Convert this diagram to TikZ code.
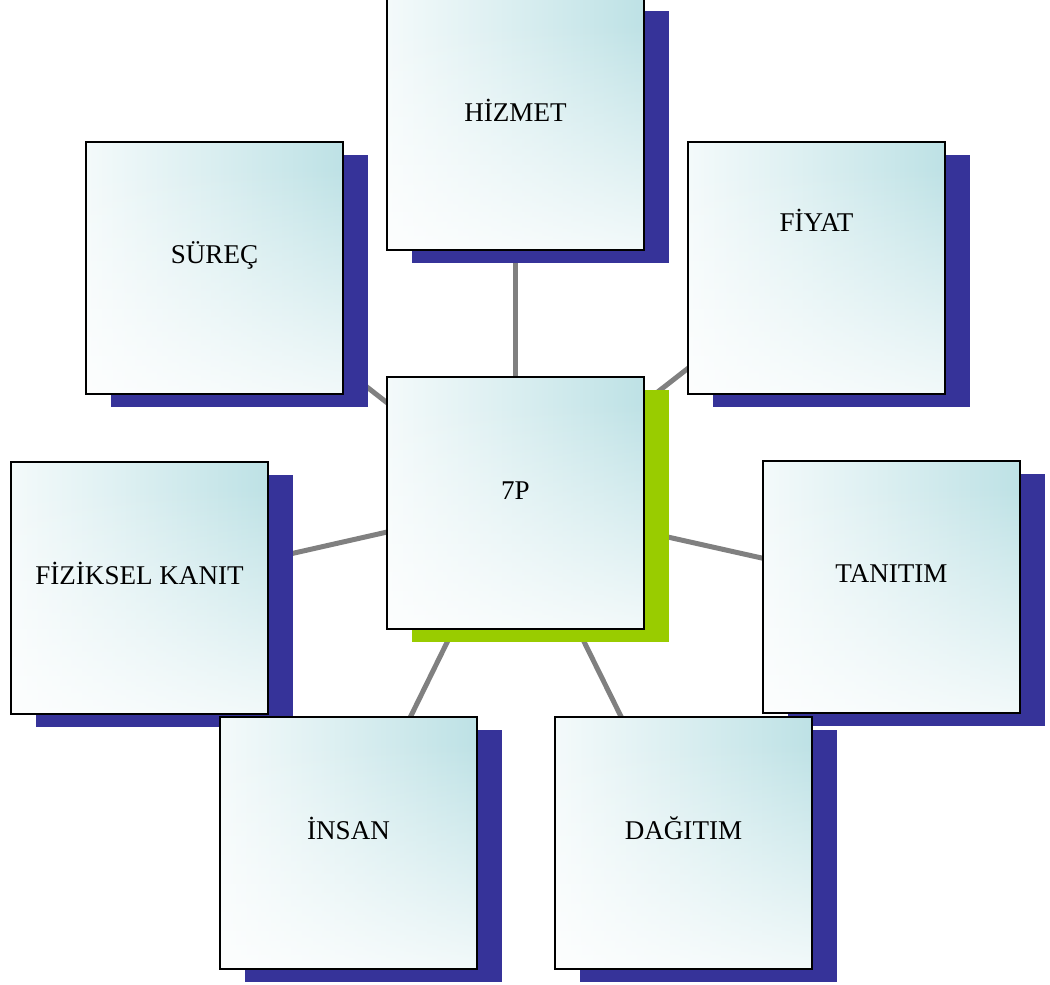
\documentclass[tikz,border=0pt]{standalone}
\usepackage{fontspec}
\setmainfont{Liberation Serif}
\usetikzlibrary{calc,fadings}

\definecolor{cardteal}{RGB}{184,223,227}
\definecolor{navyshadow}{RGB}{54,51,153}
\definecolor{limeshadow}{RGB}{153,204,0}
\definecolor{linkgray}{RGB}{128,128,128}

% card face: white on the left turning teal on the right ...
\pgfdeclarehorizontalshading{cardface}{100bp}{color(0bp)=(white); color(14bp)=(white); color(45bp)=(cardteal!45!white); color(80bp)=(cardteal); color(100bp)=(cardteal)}
% ... washed back to white towards the bottom
\pgfdeclareverticalshading{cardwash}{100bp}{color(0bp)=(white); color(14bp)=(white); color(70bp)=(black); color(100bp)=(black)}
\pgfdeclarefading{washfade}{\pgfuseshading{cardwash}}

\pgfdeclarelayer{links}
\pgfdeclarelayer{shadows}
\pgfsetlayers{links,shadows,main}

\tikzset{
  card/.style={draw=black, line width=1.5pt, inner sep=0pt, outer sep=0pt,
    minimum width=257*0.75pt, minimum height=252*0.75pt,
    path picture={
      \shade[shading=cardface] (path picture bounding box.south west) rectangle (path picture bounding box.north east);
      \fill[white, path fading=washfade, fit fading=true] (path picture bounding box.south west) rectangle (path picture bounding box.north east);
    }},
  cardtext/.style={anchor=base, inner sep=0pt, font=\fontsize{20.3}{24}\selectfont},
  link/.style={draw=linkgray, line width=3.75pt},
  navyback/.style={fill=navyshadow},
  limeback/.style={fill=limeshadow},
}

\newcommand{\backplate}[2]{%
  \fill[#2] ($(#1.north west)+(25,12.5)$) rectangle ($(#1.south east)+(25,12.5)$);}

\begin{document}
\begin{tikzpicture}[x=0.75pt, y=-0.75pt]
\useasboundingbox (0,0) rectangle (1050,985);

% cards
\node[card] (core)    at (515.5,503) {};
\node[card] (hizmet)  at (515.5,124) {};
\node[card] (surec)   at (214.5,268) {};
\node[card] (fiyat)   at (816.5,268) {};
\node[card] (fiziksel) at (139.5,588) {};
\node[card] (tanitim) at (891.5,587) {};
\node[card] (insan)   at (348.5,843) {};
\node[card] (dagitim) at (683.5,843) {};

% labels
\node[cardtext] (tcore)    at (515.5,499) {7P};
\node[cardtext] (thizmet)  at (515.5,121) {HİZMET};
\node[cardtext] (tsurec)   at (214.5,263) {SÜREÇ};
\node[cardtext] (tfiyat)   at (816.5,231) {FİYAT};
\node[cardtext] (tfiziksel) at (139.5,584) {FİZİKSEL KANIT};
\node[cardtext] (ttanitim) at (891.5,582) {TANITIM};
\node[cardtext] (tinsan)   at (348.5,839) {İNSAN};
\node[cardtext] (tdagitim) at (683.5,839) {DAĞITIM};

% back plates
\begin{pgfonlayer}{shadows}
  \backplate{core}{limeback}
  \foreach \c in {hizmet,surec,fiyat,fiziksel,tanitim,insan,dagitim}{
    \backplate{\c}{navyback}
  }
\end{pgfonlayer}

% spokes from the centre card
\begin{pgfonlayer}{links}
  \foreach \c in {hizmet,surec,fiyat,fiziksel,tanitim,insan,dagitim}{
    \draw[link] (core.center) -- (\c.center);
  }
\end{pgfonlayer}
\end{tikzpicture}
\end{document}
